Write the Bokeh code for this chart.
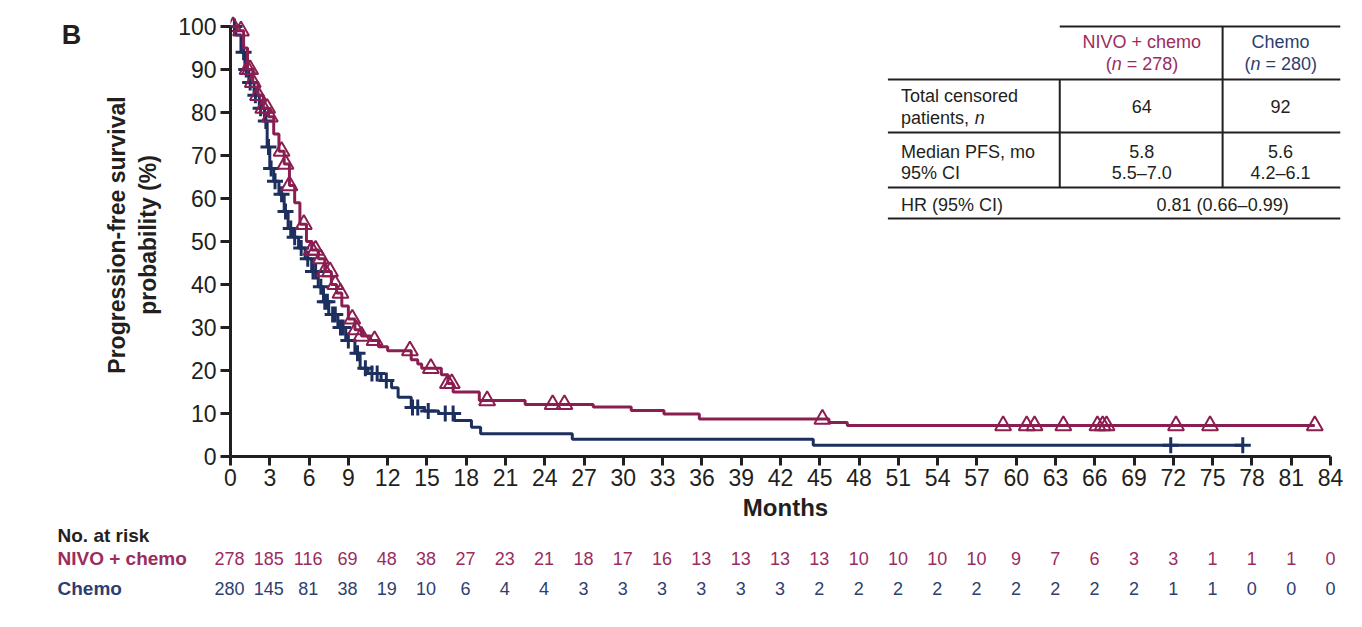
import numpy as np
from bokeh.plotting import figure
from bokeh.layouts import column, row
from bokeh.models import ColumnDataSource, Range1d, FixedTicker
from bokeh.core.properties import value
from bokeh.embed import file_html
from bokeh.resources import INLINE

# ---- data ----
nivo_t = [0, 0.5, 1.0, 1.3, 1.7, 2.1, 2.5, 2.9, 3.3, 3.7, 4.1, 4.5, 4.9, 5.3, 5.8,
          6.2, 6.7, 7.2, 7.7, 8.1, 8.5, 9.0, 9.5, 10.0, 10.7, 11.3, 12.0, 13.8, 14.3,
          14.6, 16.1, 16.6, 17.0, 19.0, 22.5, 27.7, 30.6, 33.1, 35.8, 45.7, 47.1, 82.8]
nivo_s = [100, 99, 95, 90, 87, 84, 81, 79, 75, 71, 68, 63, 59, 54, 50,
          48, 46, 43, 40, 38, 35, 32, 29.5, 28, 27, 25.5, 24.6, 22.5, 21.5,
          20.5, 19.0, 17.0, 15.0, 13.0, 12.1, 11.5, 10.7, 9.9, 8.7, 7.9, 7.2, 7.2]
nivo_cens = [0.2, 0.8, 1.3, 1.5, 1.7, 2.1, 2.5, 2.8, 3.0, 3.9, 4.2, 4.5, 5.6, 6.2, 6.5,
             6.9, 7.2, 7.6, 8.0, 8.4, 9.3, 9.6, 10.0, 11.0, 13.7, 15.3, 16.6, 16.9, 19.6,
             24.6, 25.5, 45.2, 59.0, 60.8, 61.4, 63.6, 66.2, 66.6, 66.9, 72.2, 74.8, 82.8]

chemo_t = [0, 0.4, 0.8, 1.1, 1.4, 1.8, 2.2, 2.6, 2.8, 3.0, 3.3, 3.7, 4.1, 4.4, 4.8,
           5.2, 5.7, 6.2, 6.7, 7.1, 7.5, 8.2, 8.8, 9.5, 9.9, 10.5, 11.5, 12.3, 12.8,
           13.8, 14.8, 15.9, 17.1, 18.4, 19.1, 26.1, 44.5, 77.3]
chemo_s = [100, 98, 94, 90, 87, 84, 81, 78, 72, 67, 64, 61, 57, 53, 51,
           48.5, 46, 43, 39.5, 36, 33, 30, 27, 24, 20.5, 19.3, 17.7, 16, 13.8,
           11.4, 10.6, 10.0, 8.4, 6.8, 5.3, 4.0, 2.6, 2.6]
chemo_cens = [0.3, 1.0, 1.2, 1.5, 1.9, 2.3, 2.7, 2.9, 3.1, 3.4, 3.9, 4.2, 4.6, 4.9, 5.4,
              5.9, 6.3, 6.5, 6.9, 7.2, 7.4, 7.8, 8.0, 8.4, 8.6, 9.0, 9.7, 10.3, 10.8,
              11.2, 11.9, 13.9, 14.3, 15.1, 16.4, 17.0, 71.8, 77.3]

risk_months = list(range(0, 85, 3))
nivo_risk = [278, 185, 116, 69, 48, 38, 27, 23, 21, 18, 17, 16, 13, 13, 13, 13, 10, 10,
             10, 10, 9, 7, 6, 3, 3, 1, 1, 1, 0]
chemo_risk = [280, 145, 81, 38, 19, 10, 6, 4, 4, 3, 3, 3, 3, 3, 3, 2, 2, 2, 2, 2, 2, 2,
              2, 2, 1, 1, 0, 0, 0]
y_ticks = list(range(0, 101, 10))

NIVO = "#8b1e50"
CHEMO = "#1d2f5e"
NIVO_TXT = "#9a2c5e"
CHEMO_TXT = "#2d3f6f"
INK = "#231f20"
FONT = "Liberation Sans"

W, H = 1354, 627
TOP_H = 524          # height of the row holding the curves
LEFT_W = 100         # strip left of the main figure (panel letter)

# page pixel -> data helpers (frame: x 0 at 229px, 84 at 1330px; y 0 at 456px, 100 at 26px)
PX_MO = (1330 - 229) / 84.0
PX_PCT = (456 - 26) / 100.0
def dx(px):
    return (px - 229) / PX_MO
def dy(py):
    return (456 - py) / PX_PCT

def step_value(ts, ss, tc):
    idx = np.searchsorted(np.array(ts), np.array(tc), side="right") - 1
    return list(np.array(ss)[idx])

def blank(width, height, x_range, y_range):
    f = figure(width=width, height=height, x_range=x_range, y_range=y_range,
               output_backend="svg", toolbar_location=None, title=None,
               x_axis_type=None, y_axis_type=None, min_border=0)
    f.outline_line_color = None
    f.grid.grid_line_color = None
    return f

# ---- main survival plot ----
p = figure(width=W - LEFT_W, height=TOP_H, x_range=Range1d(0, dx(1340)),
           y_range=Range1d(0, dy(13)), output_backend="svg", toolbar_location=None,
           title=None, min_border_left=229 - LEFT_W, min_border_right=W - 1340,
           min_border_top=13, min_border_bottom=TOP_H - 456)
p.outline_line_color = None
p.grid.grid_line_color = None

p.xaxis.ticker = FixedTicker(ticks=risk_months)
p.yaxis.ticker = FixedTicker(ticks=y_ticks)
p.xaxis.bounds = (0, 84)
p.yaxis.bounds = (0, 100)
for ax in (p.xaxis, p.yaxis):
    ax.axis_line_width = 3
    ax.axis_line_color = INK
    ax.major_tick_line_width = 3
    ax.major_tick_line_color = INK
    ax.major_tick_in = 0
    ax.major_tick_out = 10
    ax.minor_tick_line_color = None
    ax.major_label_text_font = FONT
    ax.major_label_text_font_size = "23px"
    ax.major_label_text_color = INK
    ax.axis_label_text_font = FONT
    ax.axis_label_text_font_style = "bold"
    ax.axis_label_text_font_size = "23px"
    ax.axis_label_text_color = INK
p.xaxis.major_tick_out = 9
p.xaxis.major_label_standoff = 3
p.yaxis.major_label_standoff = 4
p.xaxis.axis_label = "Months"
p.xaxis.axis_label_text_font_size = "24px"
p.xaxis.axis_label_standoff = 5
p.yaxis.axis_label = "Progression-free survival\nprobability (%)"
p.yaxis.axis_label_standoff = 14

p.step(x=chemo_t, y=chemo_s, mode="after", line_color=CHEMO, line_width=3)
p.scatter(x=chemo_cens, y=step_value(chemo_t, chemo_s, chemo_cens), marker="cross",
          size=16, line_color=CHEMO, line_width=3)
p.step(x=nivo_t, y=nivo_s, mode="after", line_color=NIVO, line_width=3)
p.scatter(x=nivo_cens, y=step_value(nivo_t, nivo_s, nivo_cens), marker="triangle",
          size=16, line_color=NIVO, line_width=2, fill_alpha=0)

# summary table (top right)
hx0, hx1, hy = [], [], []
for py, x_left in [(26, 1059), (79, 887), (132, 887), (187, 887), (218, 887)]:
    hx0.append(dx(x_left)); hx1.append(dx(1340)); hy.append(dy(py))
p.segment(x0=hx0, y0=hy, x1=hx1, y1=hy, line_color=INK, line_width=2)
p.segment(x0=[dx(1222), dx(1059)], y0=[dy(26), dy(79)], x1=[dx(1222), dx(1059)],
          y1=[dy(187), dy(187)], line_color=INK, line_width=2)

c1, c2 = 1141, 1280
cells = [
    (c1, 41, "NIVO + chemo", NIVO_TXT, "center", "normal"),
    (c2, 41, "Chemo", CHEMO_TXT, "center", "normal"),
    (900, 95, "Total censored", INK, "left", "normal"),
    (900, 117, "patients,", INK, "left", "normal"),
    (974, 117, "n", INK, "left", "italic"),
    (c1, 106, "64", INK, "center", "normal"),
    (c2, 106, "92", INK, "center", "normal"),
    (900, 151, "Median PFS, mo", INK, "left", "normal"),
    (900, 172, "95% CI", INK, "left", "normal"),
    (c1, 151, "5.8", INK, "center", "normal"),
    (c1, 172, "5.5\u20137.0", INK, "center", "normal"),
    (c2, 151, "5.6", INK, "center", "normal"),
    (c2, 172, "4.2\u20136.1", INK, "center", "normal"),
    (900, 204, "HR (95% CI)", INK, "left", "normal"),
    (1222, 204, "0.81 (0.66\u20130.99)", INK, "center", "normal"),
]
for cx, col, n_txt in [(c1, NIVO_TXT, "= 278)"), (c2, CHEMO_TXT, "= 280)")]:
    left = cx - 36
    cells += [(left, 63, "(", col, "left", "normal"),
              (left + 6, 63, "n", col, "left", "italic"),
              (left + 21, 63, n_txt, col, "left", "normal")]
tab = ColumnDataSource(dict(
    x=[dx(c[0]) for c in cells], y=[dy(c[1]) for c in cells], text=[c[2] for c in cells],
    color=[c[3] for c in cells], align=[c[4] for c in cells], style=[c[5] for c in cells]))
p.text(x="x", y="y", text="text", source=tab, text_color="color", text_align="align",
       text_font_style="style", text_baseline="middle", text_font=value(FONT),
       text_font_size="18px")

# ---- panel letter strip ----
pb = blank(LEFT_W, TOP_H, Range1d(0, LEFT_W), Range1d(TOP_H, 0))
pb.text(x=[71], y=[25], text=["B"], text_align="center", text_baseline="middle",
        text_font=value(FONT), text_font_size="27px", text_font_style="bold",
        text_color=INK)

# ---- number at risk (x in months, y in page pixels) ----
pr = blank(W, H - TOP_H, Range1d(dx(0), dx(W)), Range1d(H, TOP_H))
lab = ColumnDataSource(dict(x=[dx(57)] * 3, y=[535, 558, 588],
                            text=["No. at risk", "NIVO + chemo", "Chemo"],
                            color=[INK, NIVO_TXT, CHEMO_TXT]))
pr.text(x="x", y="y", text="text", source=lab, text_color="color", text_align="left",
        text_baseline="middle", text_font=value(FONT), text_font_size="19px",
        text_font_style="bold")
for py, vals, col in [(558, nivo_risk, NIVO_TXT), (588, chemo_risk, CHEMO_TXT)]:
    src = ColumnDataSource(dict(x=risk_months, y=[py] * len(vals),
                                text=[str(v) for v in vals]))
    pr.text(x="x", y="y", text="text", source=src, text_align="center",
            text_baseline="middle", text_font=value(FONT), text_font_size="18px",
            text_color=col)

layout = column(row(pb, p), pr)
open("out.html", "w").write(file_html(layout, INLINE))
